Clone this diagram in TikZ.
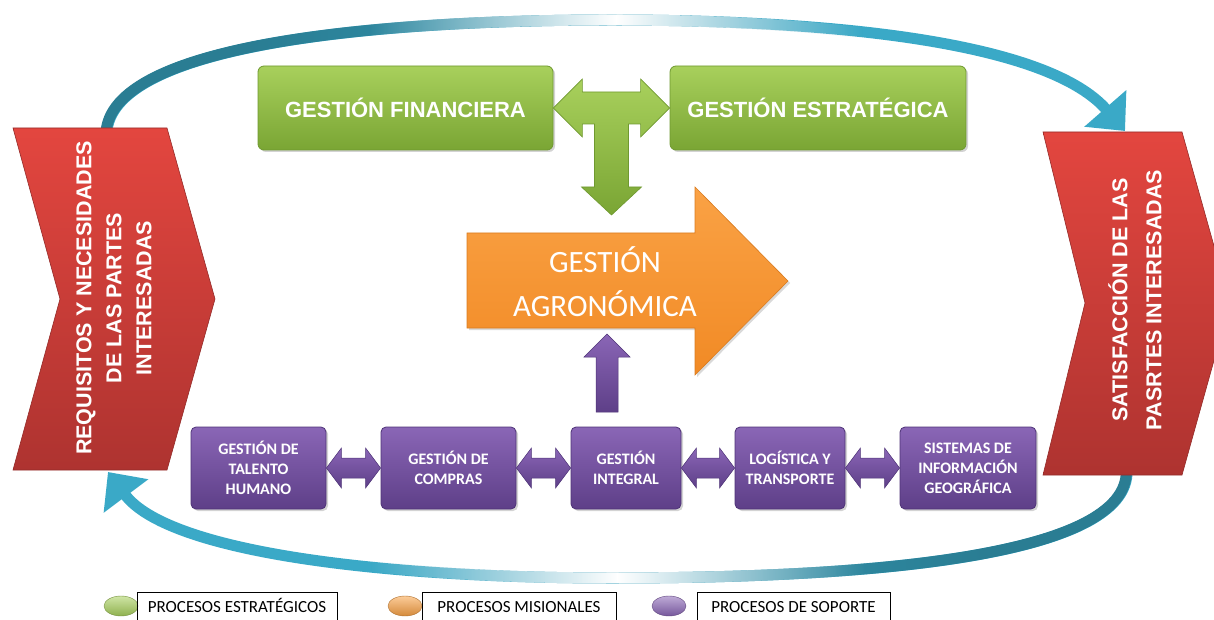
\documentclass[tikz,border=0pt]{standalone}
\usepackage{fontspec}
\setmainfont{Liberation Sans}
\newfontfamily\calibri{Carlito}
\usetikzlibrary{calc,arrows.meta,shadows,fadings,shapes.geometric}

\definecolor{grtop}{HTML}{A8D05C}
\definecolor{grbot}{HTML}{7AA534}
\definecolor{grline}{HTML}{6F9930}
\definecolor{putop}{HTML}{8A66B6}
\definecolor{pubot}{HTML}{5E3F88}
\definecolor{puline}{HTML}{4E3377}
\definecolor{ortop}{HTML}{FAA245}
\definecolor{orbot}{HTML}{F18A25}
\definecolor{rdtop}{HTML}{E3463F}
\definecolor{rdbot}{HTML}{AE3330}
\definecolor{ringlight}{HTML}{3AA9C7}
\definecolor{ringdark}{HTML}{2A7D93}

\begin{tikzfadingfrompicture}[name=darkleft]
\fill[transparent!100] (-50bp,-50bp) rectangle (50bp,50bp);
\fill[transparent!0] (-50bp,-50bp) rectangle (-18bp,50bp);
\shade[left color=transparent!0, right color=transparent!100] (-18bp,-50bp) rectangle (12bp,50bp);
\end{tikzfadingfrompicture}
\begin{tikzfadingfrompicture}[name=darkright]
\fill[transparent!100] (-50bp,-50bp) rectangle (50bp,50bp);
\fill[transparent!0] (18bp,-50bp) rectangle (50bp,50bp);
\shade[left color=transparent!100, right color=transparent!0] (-12bp,-50bp) rectangle (18bp,50bp);
\end{tikzfadingfrompicture}
\begin{tikzfadingfrompicture}[name=midglow]
\fill[transparent!100] (-50bp,-50bp) rectangle (50bp,50bp);
\shade[left color=transparent!100, right color=transparent!0] (-12bp,-50bp) rectangle (0bp,50bp);
\shade[left color=transparent!0, right color=transparent!100] (0bp,-50bp) rectangle (12bp,50bp);
\end{tikzfadingfrompicture}

% block arrow with two heads between two boxes of one row
\newcommand\sidearrow[2]{%
  \draw[purparrow] (#1.east) -- ($(#1.east)+(15,-20)$) -- ($(#1.east)+(15,-10)$)
    -- ($(#2.west)+(-15,-10)$) -- ($(#2.west)+(-15,-20)$) -- (#2.west)
    -- ($(#2.west)+(-15,20)$) -- ($(#2.west)+(-15,10)$)
    -- ($(#1.east)+(15,10)$) -- ($(#1.east)+(15,20)$) -- cycle;}
\newcommand\toparc{(lout) .. controls (118,40) and (400,20) .. (612,20) .. controls (850,20) and (1050,45) .. (rin)}
\newcommand\botarc{(rout) .. controls (1122,560) and (850,578) .. (612,578) .. controls (380,578) and (168,552) .. (lin)}

\begin{document}
\begin{tikzpicture}[x=1pt,y=-1pt,
  ring/.style={line width=11pt, ringlight},
  chevron/.style={top color=rdtop, bottom color=rdbot, draw=rdbot!85!black, line width=.6pt},
  chevtext/.style={text=white, align=center, font=\bfseries\fontsize{21.5}{30}\selectfont},
  greenbox/.style={rounded corners=6pt, top color=grtop, bottom color=grbot, draw=grline, line width=.8pt,
    drop shadow={opacity=.35, shadow xshift=2pt, shadow yshift=-2pt},
    minimum height=84pt, text=white, font=\bfseries\fontsize{22}{26}\selectfont},
  greenarrow/.style={top color=grtop, bottom color=grbot, draw=grline, line width=.6pt},
  orangearrow/.style={top color=ortop, bottom color=orbot, draw=orbot!90!black, line width=.6pt,
    drop shadow={opacity=.3, shadow xshift=2pt, shadow yshift=-2pt}},
  agro/.style={text=white, align=center, font=\calibri\fontsize{31}{44}\selectfont},
  purpbox/.style={rounded corners=5pt, top color=putop, bottom color=pubot, draw=puline, line width=.8pt,
    drop shadow={opacity=.35, shadow xshift=2pt, shadow yshift=-2pt},
    minimum height=82pt, inner sep=2pt, align=center, text=white,
    font=\calibri\bfseries\fontsize{16}{20}\selectfont},
  purparrow/.style={top color=putop, bottom color=pubot, draw=puline, line width=.5pt},
  legball/.style={ellipse, minimum width=34pt, minimum height=20pt, inner sep=0pt, draw=#1!70!black, line width=.4pt,
    top color=#1!55!white, bottom color=#1!85!black},
  legbox/.style={draw, line width=.8pt, anchor=base, text height=18pt, text depth=10pt, inner sep=2pt,
    font=\calibri\fontsize{17}{20}\selectfont}]
\useasboundingbox (0,0) rectangle (1214,620);

% ring of arrows
\coordinate (lout) at (107,130);
\coordinate (rin) at (1125,131);
\coordinate (rout) at (1127,474);
\coordinate (lin) at (108,472);
\draw[ring, -{Triangle[width=54pt,length=30pt]}] \toparc;
\draw[ring, ringdark, path fading=darkleft] \toparc;
\draw[ring, white, path fading=midglow] \toparc;
\draw[ring, -{Triangle[width=54pt,length=30pt]}] \botarc;
\draw[ring, ringdark, path fading=darkright] \botarc;
\draw[ring, white, path fading=midglow] \botarc;

% chevrons
\draw[chevron] (13,128) -- (167,128) -- (215,299) -- (167,470) -- (13,470) -- (60,299) -- cycle;
\node[chevtext, rotate=90] (lreq) at (114,298) {REQUISITOS Y NECESIDADES\\DE LAS PARTES\\INTERESADAS};
\draw[chevron] (1043,132) -- (1182,132) -- (1230,303) -- (1182,475) -- (1043,475) -- (1085,303) -- cycle;
\node[chevtext, rotate=90, font=\bfseries\fontsize{21.5}{34}\selectfont] (rsat) at (1135,300) {SATISFACCIÓN DE LAS\\PASRTES INTERESADAS};

% strategic
\node[greenbox, minimum width=295pt] (gf) at (405.5,108) {GESTIÓN FINANCIERA};
\node[greenbox, minimum width=296pt] (ge) at (818,108) {GESTIÓN ESTRATÉGICA};
\coordinate (tmid) at ($(gf.east)!.5!(ge.west)$);
\coordinate (tdown) at ($(tmid)+(0,107)$);
\draw[greenarrow] (gf.east) -- ($(gf.east)+(29,-29)$) -- ($(gf.east)+(29,-16)$)
  -- ($(ge.west)+(-29,-16)$) -- ($(ge.west)+(-29,-29)$) -- (ge.west)
  -- ($(ge.west)+(-29,29)$) -- ($(ge.west)+(-29,16)$) -- ($(tmid)+(17,16)$)
  -- ($(tdown)+(17,-28)$) -- ($(tdown)+(30,-28)$) -- (tdown) -- ($(tdown)+(-30,-28)$)
  -- ($(tdown)+(-17,-28)$) -- ($(tmid)+(-17,16)$) -- ($(gf.east)+(29,16)$)
  -- ($(gf.east)+(29,29)$) -- cycle;

% mission
\draw[orangearrow] (467,233) -- (695,233) -- (695,187) -- (788,281) -- (695,375) -- (695,328) -- (467,328) -- cycle;
\node[agro] (ga) at (605,282) {GESTIÓN\\AGRONÓMICA};

% support
\node[purpbox, minimum width=135pt] (p1) at (258.5,468) {GESTIÓN DE\\TALENTO\\HUMANO};
\node[purpbox, minimum width=135pt] (p2) at (448.5,468) {GESTIÓN DE\\COMPRAS};
\node[purpbox, minimum width=110pt] (p3) at (626,468) {GESTIÓN\\INTEGRAL};
\node[purpbox, minimum width=110pt] (p4) at (790,468) {LOGÍSTICA Y\\TRANSPORTE};
\node[purpbox, minimum width=136pt] (p5) at (968,468) {SISTEMAS DE\\INFORMACIÓN\\GEOGRÁFICA};
\sidearrow{p1}{p2}
\sidearrow{p2}{p3}
\sidearrow{p3}{p4}
\sidearrow{p4}{p5}
\coordinate (pup) at (607,334);
\coordinate (pfoot) at (607,412);
\draw[purparrow] (pup) -- ($(pup)+(23,23)$) -- ($(pup)+(11,23)$) -- ($(pfoot)+(11,0)$)
  -- ($(pfoot)+(-11,0)$) -- ($(pup)+(-11,23)$) -- ($(pup)+(-23,23)$) -- cycle;

% legend
\node[legball=grtop] (b1) at (121,606) {};
\node[legbox, minimum width=200pt] (l1) at (237,612) {PROCESOS ESTRATÉGICOS};
\node[legball=ortop] (b2) at (405,606) {};
\node[legbox, minimum width=194pt] (l2) at (519,612) {PROCESOS MISIONALES};
\node[legball=putop] (b3) at (669,606) {};
\node[legbox, minimum width=193pt] (l3) at (793.5,612) {PROCESOS DE SOPORTE};
\end{tikzpicture}
\end{document}
